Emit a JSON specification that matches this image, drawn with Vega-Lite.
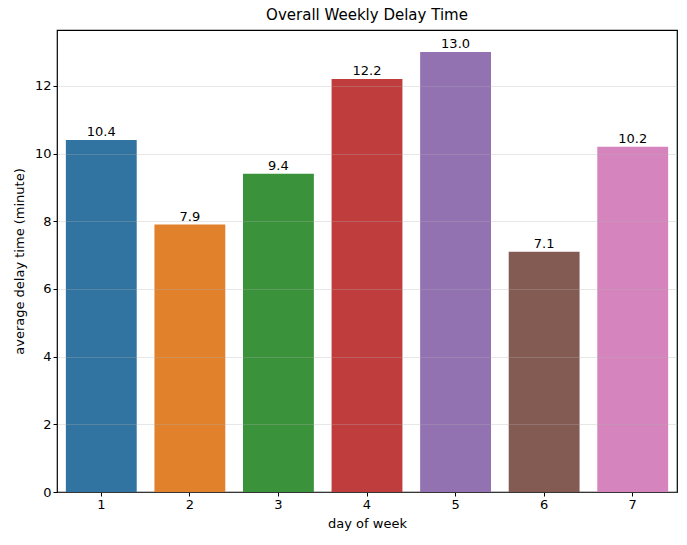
{
  "$schema": "https://vega.github.io/schema/vega-lite/v6.json",
  "width": 620,
  "height": 462,
  "autosize": "none",
  "padding": {"left": 57, "top": 30, "right": 10, "bottom": 53},
  "background": "white",
  "title": {"text": "Overall Weekly Delay Time", "font": "DejaVu Sans", "fontSize": 15, "fontWeight": "normal", "color": "black", "offset": 7},
  "config": {
    "font": "DejaVu Sans",
    "view": {"stroke": "black", "strokeWidth": 1.2},
    "axis": {"labelFont": "DejaVu Sans", "titleFont": "DejaVu Sans", "labelFontSize": 13, "titleFontSize": 13, "titleFontWeight": "normal", "labelColor": "black", "titleColor": "black", "tickColor": "black", "domain": false, "tickSize": 4}
  },
  "data": {
    "values": [
      {"day": 1, "delay": 10.4},
      {"day": 2, "delay": 7.9},
      {"day": 3, "delay": 9.4},
      {"day": 4, "delay": 12.2},
      {"day": 5, "delay": 13.0},
      {"day": 6, "delay": 7.1},
      {"day": 7, "delay": 10.2}
    ]
  },
  "encoding": {
    "x": {"field": "day", "type": "ordinal", "title": "day of week", "scale": {"paddingInner": 0.2, "paddingOuter": 0.1}, "axis": {"labelAngle": 0, "titlePadding": 6}},
    "y": {"field": "delay", "type": "quantitative", "title": "average delay time (minute)", "scale": {"domain": [0, 13.65], "nice": false}, "axis": {"values": [0, 2, 4, 6, 8, 10, 12], "grid": true, "gridColor": "#b0b0b0", "gridOpacity": 0.3, "zindex": 1, "titlePadding": 8}}
  },
  "layer": [
    {
      "mark": {"type": "bar"},
      "encoding": {
        "color": {"field": "day", "type": "nominal", "legend": null, "scale": {"range": ["#3274a1", "#e1812c", "#3a923a", "#c03d3e", "#9372b2", "#845b53", "#d684bd"]}}
      }
    },
    {
      "mark": {"type": "text", "baseline": "bottom", "dy": -1, "fontSize": 13, "color": "black"},
      "encoding": {"text": {"field": "delay", "type": "quantitative", "format": ".1f"}}
    }
  ]
}
